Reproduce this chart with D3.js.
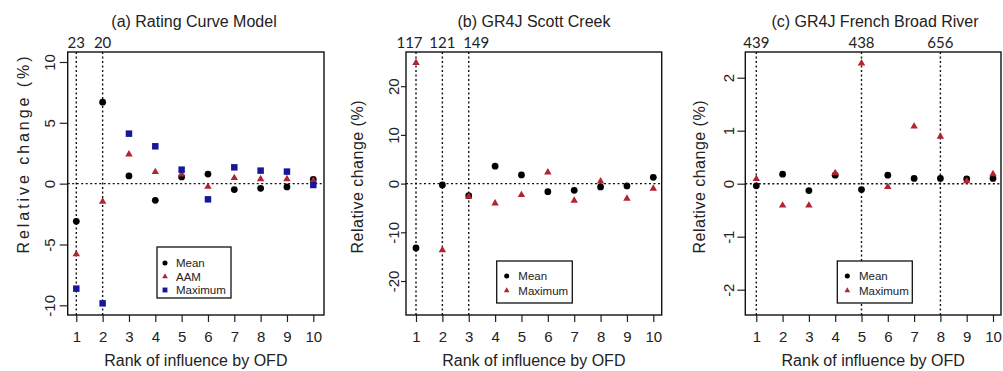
<!DOCTYPE html>
<html>
<head>
<meta charset="utf-8">
<script src="https://cdn.jsdelivr.net/npm/d3@7"></script>
<style>
  html, body { margin: 0; padding: 0; background: #fff; }
  svg { display: block; }
  text { font-family: "Liberation Sans", Arial, sans-serif; fill: #222; }
</style>
</head>
<body>
<script>
// ---------- data ----------
const ranks = [1, 2, 3, 4, 5, 6, 7, 8, 9, 10];

const ratingMean = [-3.1, 6.7, 0.63, -1.37, 0.55, 0.79, -0.49, -0.38, -0.27, 0.36];
const ratingAAM  = [-5.8, -1.48, 2.41, 0.96, 0.77, -0.25, 0.47, 0.38, 0.38, 0.25];
const ratingMax  = [-8.63, -9.84, 4.11, 3.07, 1.15, -1.29, 1.34, 1.07, 0.99, -0.11];

const scottMean = [-13.2, -0.27, -2.47, 3.57, 1.78, -1.65, -1.37, -0.69, -0.48, 1.3];
const scottMax  = [24.8, -13.65, -2.67, -4.05, -2.33, 2.33, -3.5, 0.48, -3.09, -1.03];

const frenchMean = [-0.04, 0.18, -0.13, 0.16, -0.11, 0.16, 0.1, 0.1, 0.09, 0.1];
const frenchMax  = [0.09, -0.41, -0.41, 0.2, 2.27, -0.06, 1.08, 0.89, 0.05, 0.18];

const ratingTopRanks = [1, 2];        const ratingTopLabels = ["23", "20"];
const scottTopRanks  = [1, 2, 3];     const scottTopLabels  = ["117", "121", "149"];
const frenchTopRanks = [1, 5, 8];     const frenchTopLabels = ["439", "438", "656"];

const ratingYTicks = [-10, -5, 0, 5, 10];
const scottYTicks  = [-20, -10, 0, 10, 20];
const frenchYTicks = [-2, -1, 0, 1, 2];

const titles = ["(a) Rating Curve Model", "(b) GR4J Scott Creek", "(c) GR4J French Broad River"];
const xTitle = "Rank of influence by OFD";
const yTitle = "Relative change (%)";

// ---------- styling ----------
const RED = "#b0252f", BLUE = "#17179a", BLACK = "#000";

const W = 1003, H = 371;
const svg = d3.select("body").append("svg").attr("width", W).attr("height", H);

// layout per panel
const panels = [
  {
    title: titles[0], titleX: 194,
    box: {l: 67.7, r: 324, t: 52, b: 315},
    x1: 76.3, x10: 313.3,
    yDom: [-10, 10], yRange: [305.3, 62],
    yTicks: ratingYTicks, tickLabX: 55, tickLen: 8, yLabX: 29, yLabCenter: 155, yLabLen: 197,
    topRanks: ratingTopRanks, topLabels: ratingTopLabels, topShift: [0, 0],
    series: [
      {name: "Mean", vals: ratingMean, type: "circle", color: BLACK},
      {name: "AAM", vals: ratingAAM, type: "triangle", color: RED},
      {name: "Maximum", vals: ratingMax, type: "square", color: BLUE}
    ],
    legend: {l: 157, r: 231, t: 247, b: 298, symX: 165, textX: 176, rows: [263, 276.5, 290]}
  },
  {
    title: titles[1], titleX: 534,
    box: {l: 406, r: 661.7, t: 52, b: 315},
    x1: 416, x10: 653.3,
    yDom: [-20, 20], yRange: [281, 86.2],
    yTicks: scottYTicks, tickLabX: 399, tickLen: 5, yLabX: 363, yLabCenter: 177, yLabLen: 153,
    topRanks: scottTopRanks, topLabels: scottTopLabels, topShift: [-6.5, 0, 7.5],
    series: [
      {name: "Mean", vals: scottMean, type: "circle", color: BLACK},
      {name: "Maximum", vals: scottMax, type: "triangle", color: RED}
    ],
    legend: {l: 496.7, r: 572.3, t: 261, b: 303, symX: 506.7, textX: 518.3, rows: [276, 290.5]}
  },
  {
    title: titles[2], titleX: 875,
    box: {l: 745.3, r: 1001, t: 52, b: 315},
    x1: 756.3, x10: 993,
    yDom: [-2, 2], yRange: [289.7, 77.7],
    yTicks: frenchYTicks, tickLabX: 734, tickLen: 8, yLabX: 705, yLabCenter: 177, yLabLen: 153,
    topRanks: frenchTopRanks, topLabels: frenchTopLabels, topShift: [0, 0, 0],
    series: [
      {name: "Mean", vals: frenchMean, type: "circle", color: BLACK},
      {name: "Maximum", vals: frenchMax, type: "triangle", color: RED}
    ],
    legend: {l: 837.3, r: 912.3, t: 261, b: 303, symX: 847.3, textX: 859, rows: [276, 290.5]}
  }
];

const symType = {circle: d3.symbolCircle, triangle: d3.symbolTriangle, square: d3.symbolSquare};
const symSize = {circle: 36, triangle: 24, square: 42};
const legSize = {circle: 20, triangle: 14, square: 24};
const plainFmt = d => String(d);

panels.forEach(p => {
  const g = svg.append("g");
  const x = d3.scaleLinear().domain([1, 10]).range([p.x1, p.x10]);
  const y = d3.scaleLinear().domain(p.yDom).range(p.yRange);
  const B = p.box;

  // title
  g.append("text").attr("x", p.titleX).attr("y", 27).attr("text-anchor", "middle")
    .style("font-size", "16px").text(p.title);

  // x axis ticks
  const xAxis = d3.axisBottom(x).tickValues(ranks).tickSize(7).tickFormat(plainFmt);
  const xg = g.append("g").attr("transform", `translate(0,${B.b})`).call(xAxis);
  xg.select(".domain").remove();
  xg.selectAll(".tick line").attr("stroke", "#222").attr("stroke-width", 1.2);
  xg.selectAll(".tick text").attr("y", 0).attr("dy", null)
    .attr("transform", "translate(0,27)")
    .style("font-size", "15px").style("font-family", "'Liberation Sans', Arial, sans-serif").attr("fill", "#222");

  // y axis ticks
  const yAxis = d3.axisLeft(y).tickValues(p.yTicks).tickSize(p.tickLen).tickFormat(plainFmt);
  const yg = g.append("g").attr("transform", `translate(${B.l},0)`).call(yAxis);
  yg.select(".domain").remove();
  yg.selectAll(".tick line").attr("stroke", "#222").attr("stroke-width", 1.2);
  yg.selectAll(".tick text").attr("x", 0).attr("dy", null).attr("text-anchor", "middle")
    .attr("transform", `translate(${p.tickLabX - B.l},0) rotate(-90)`)
    .style("font-size", "15px").style("font-family", "'Liberation Sans', Arial, sans-serif").attr("fill", "#222");

  // axis titles
  g.append("text").attr("x", (B.l + B.r) / 2).attr("y", 366).attr("text-anchor", "middle")
    .style("font-size", "16px").text(xTitle);
  g.append("text").attr("transform", `translate(${p.yLabX},${p.yLabCenter}) rotate(-90)`)
    .attr("text-anchor", "middle").style("font-size", "16px")
    .attr("textLength", p.yLabLen).attr("lengthAdjust", "spacing").text(yTitle);

  // dotted reference lines
  g.append("line").attr("x1", B.l).attr("x2", B.r).attr("y1", y(0)).attr("y2", y(0))
    .attr("stroke", "#111").attr("stroke-width", 1.4).attr("stroke-dasharray", "2,2.5");
  g.selectAll(".vline").data(p.topRanks).join("line")
    .attr("x1", d => x(d)).attr("x2", d => x(d)).attr("y1", B.t).attr("y2", B.b)
    .attr("stroke", "#111").attr("stroke-width", 1.4).attr("stroke-dasharray", "2,2.5");

  // top labels
  g.selectAll(".toplab").data(p.topRanks).join("text")
    .attr("x", (d, i) => x(d) + p.topShift[i]).attr("y", 48).attr("text-anchor", "middle")
    .style("font-family", "Lato, 'Open Sans', sans-serif").style("font-size", "15px")
    .text((d, i) => p.topLabels[i]);

  // points
  p.series.forEach(s => {
    g.selectAll(null).data(s.vals).join("path")
      .attr("transform", (d, i) => `translate(${x(ranks[i])},${y(d)})`)
      .attr("d", d3.symbol().type(symType[s.type]).size(symSize[s.type]))
      .attr("fill", s.color);
  });

  // frame
  g.append("rect").attr("x", B.l).attr("y", B.t).attr("width", B.r - B.l).attr("height", B.b - B.t)
    .attr("fill", "none").attr("stroke", "#111").attr("stroke-width", 1.4);

  // legend
  const L = p.legend;
  g.append("rect").attr("x", L.l).attr("y", L.t).attr("width", L.r - L.l).attr("height", L.b - L.t)
    .attr("fill", "#fff").attr("stroke", "#111").attr("stroke-width", 1.3);
  p.series.forEach((s, i) => {
    g.append("path").attr("transform", `translate(${L.symX},${L.rows[i]})`)
      .attr("d", d3.symbol().type(symType[s.type]).size(legSize[s.type]))
      .attr("fill", s.color);
    g.append("text").attr("x", L.textX).attr("y", L.rows[i] + 4)
      .style("font-size", "11.5px").attr("fill", "#333").text(s.name);
  });
});
</script>
</body>
</html>
